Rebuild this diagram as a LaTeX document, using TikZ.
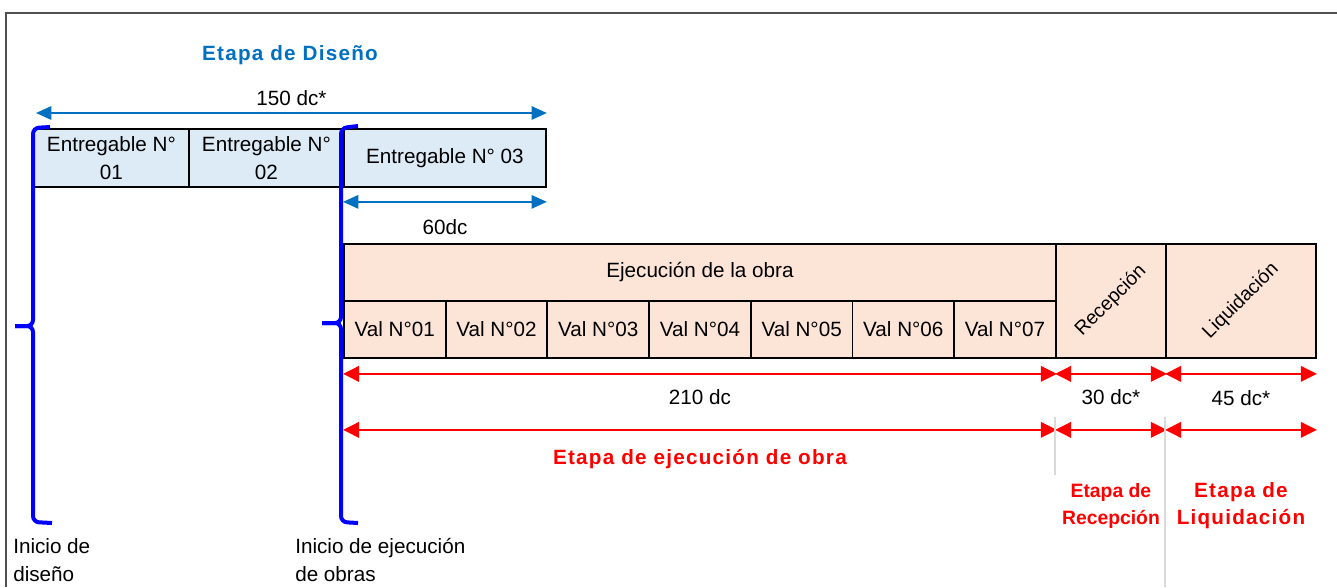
\documentclass[tikz,border=0pt]{standalone}
\usepackage{fontspec}
\setmainfont{Liberation Sans}
\newfontfamily\widefont{Liberation Sans}[LetterSpace=6.0]
\usetikzlibrary{arrows.meta}

\definecolor{cellblue}{RGB}{221,235,247}
\definecolor{cellpeach}{RGB}{252,228,214}
\definecolor{stageblue}{RGB}{0,112,192}
\definecolor{bracketblue}{RGB}{0,0,255}
\definecolor{stagered}{RGB}{255,0,0}
\definecolor{framegray}{RGB}{80,80,80}
\definecolor{sepgray}{RGB}{217,217,217}

\newdimen\pu \pu=0.75pt
\newcommand{\txt}{\fontsize{15.5}{21}\selectfont}
\newcommand{\bigred}{\widefont\bfseries\fontsize{15.5}{20.5}\selectfont}
\newcommand{\slanted}{\fontsize{14.5}{16}\selectfont}

\tikzset{
  cell/.style={draw=black, line width=1.4pt, inner sep=0pt, anchor=north west,
    align=center, font=\txt},
  designcell/.style={cell, fill=cellblue},
  workcell/.style={cell, fill=cellpeach},
  bluedim/.style={draw=stageblue, line width=1.5pt,
    {Triangle[length=11.5pt,width=10pt]}-{Triangle[length=11.5pt,width=10pt]}},
  reddim/.style={draw=stagered, line width=1.9pt,
    {Triangle[length=12pt,width=11.5pt]}-{Triangle[length=12pt,width=11.5pt]}},
  bracket/.style={draw=bracketblue, line width=3pt, rounded corners=4.5pt},
  sepline/.style={draw=sepgray, line width=1.5pt},
  dimlabel/.style={font=\txt, inner sep=0pt},
}

\begin{document}
\begin{tikzpicture}[x=0.75pt, y=-0.75pt]

  \useasboundingbox (0,0) rectangle (1337,587);
  \draw[draw=framegray, line width=1.5pt] (6,587) -- (6,13) -- (1337,13);

  % design stage
  \node[designcell, minimum width=155\pu, minimum height=58\pu] (e1) at (33,128) {Entregable N°\\01};
  \node[designcell, minimum width=155\pu, minimum height=58\pu] (e2) at (188,128) {Entregable N°\\02};
  \node[designcell, minimum width=202\pu, minimum height=58\pu] (e3) at (343,128) {Entregable N° 03};

  \node[font=\bigred, text=stageblue] (diseno) at (290,55) {Etapa de Diseño};

  \draw[bluedim] ([xshift=2.25pt, yshift=11.25pt]e1.north west) to node[dimlabel, yshift=11.25pt] {150 dc*} ([yshift=11.25pt]e3.north east);
  \draw[bluedim] ([yshift=-10.5pt]e3.south west) to node[dimlabel, yshift=-18.75pt] {60dc} ([yshift=-10.5pt]e3.south east);

  % works stage
  \node[workcell, minimum width=712\pu, minimum height=57\pu] (obra) at (343,243) {Ejecución de la obra};
  \foreach \i in {1,...,7}
    \node[workcell, minimum width=101.71\pu, minimum height=57\pu] (v\i) at ({343+101.71*(\i-1)},300) {Val N°0\i};
  \node[workcell, minimum width=110\pu, minimum height=114\pu] (recep) at (1055,243)
    {\raisebox{-2pt}{\rotatebox{45}{\slanted Recepción}}};
  \node[workcell, minimum width=150\pu, minimum height=114\pu] (liqui) at (1165,243)
    {\raisebox{-8pt}{\rotatebox{45}{\slanted Liquidación}}};

  \draw[reddim] ([yshift=-11.25pt]v1.south west) to node[dimlabel, yshift=-17.25pt] {210 dc} ([yshift=-11.25pt]v7.south east);
  \draw[reddim] ([yshift=-11.25pt]recep.south west) to node[dimlabel, yshift=-17.25pt] {30 dc*} ([yshift=-11.25pt]recep.south east);
  \draw[reddim] ([yshift=-11.25pt]liqui.south west) to node[dimlabel, yshift=-18pt] {45 dc*} ([yshift=-11.25pt]liqui.south east);

  \draw[reddim] ([yshift=-53.25pt]v1.south west) to node[font=\bigred, text=stagered, inner sep=0pt, yshift=-21.75pt] (ejec) {Etapa de ejecución de obra} ([yshift=-53.25pt]v7.south east);
  \draw[reddim] ([yshift=-53.25pt]recep.south west) to node[align=center, text=stagered, inner sep=0pt, yshift=-57pt,
    font=\bfseries\fontsize{14.5}{20}\selectfont] (etrecep) {Etapa de\\Recepción} ([yshift=-53.25pt]recep.south east);
  \draw[reddim] ([yshift=-53.25pt]liqui.south west) to node[align=center, text=stagered, inner sep=0pt, yshift=-57pt,
    font=\bigred] (etliqui) {Etapa de\\Liquidación} ([yshift=-53.25pt]liqui.south east);

  \draw[sepline] ([yshift=-43.5pt]recep.south west) -- ([yshift=-87pt]recep.south west);
  \draw[sepline] ([yshift=-43.5pt]liqui.south west) -- (1165,587);

  % brackets
  \draw[bracket] (50,127) -- (33,128) -- (33,326) -- (15,326);
  \draw[bracket] (15,326) -- (33,326) -- (33,522) -- (52,523);
  \draw[bracket] (358,126) -- (341,128) -- (341,323) -- (322,323);
  \draw[bracket] (322,323) -- (341,323) -- (341,522) -- (358,523);

  \node[font=\txt, align=left, anchor=north west, inner sep=0pt] (inidis) at (13,538) {Inicio de\\diseño};
  \node[font=\txt, align=left, anchor=north west, inner sep=0pt] (iniobra) at (295,538) {Inicio de ejecución\\de obras};

\end{tikzpicture}
\end{document}
